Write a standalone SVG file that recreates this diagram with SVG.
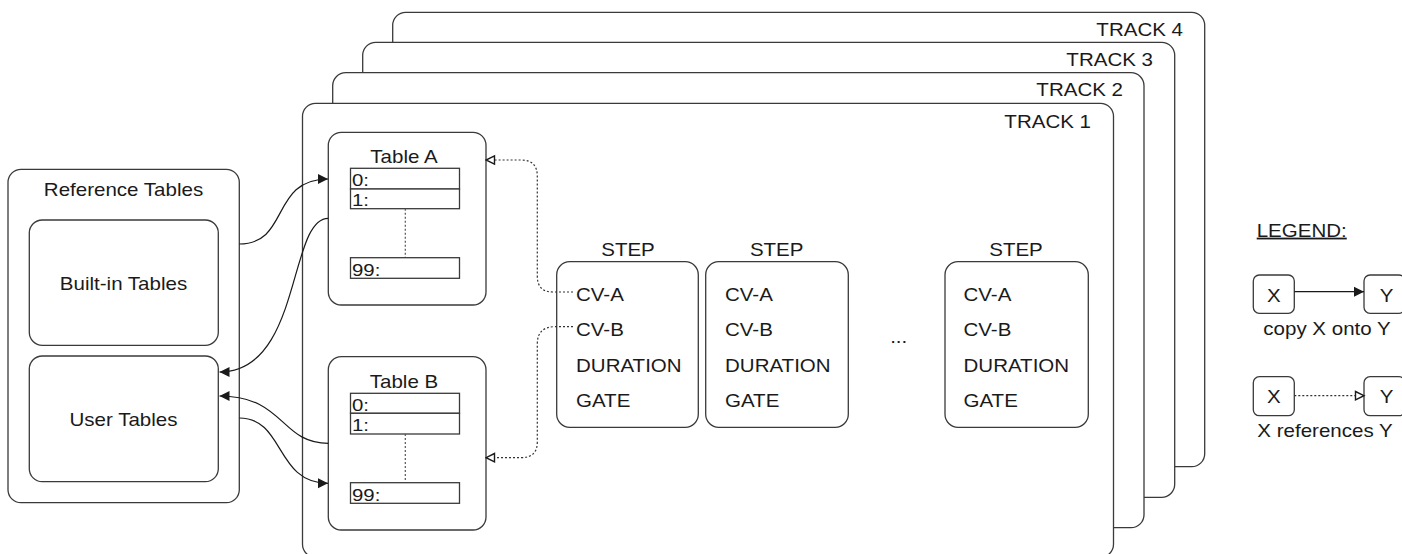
<svg xmlns="http://www.w3.org/2000/svg" width="1402" height="554" viewBox="0 0 1402 554">
<style>
  .box { fill: #ffffff; stroke: #3a3a3a; stroke-width: 1.3; }
  .cell { fill: #ffffff; stroke: #3a3a3a; stroke-width: 1.3; }
  .t { font-family: "Liberation Sans", Arial, sans-serif; font-size: 18px; fill: #1a1a1a; }
  .c { text-anchor: middle; }
  .e { text-anchor: end; }
  .row { font-family: "Liberation Sans", Arial, sans-serif; font-size: 17px; fill: #1a1a1a; }
  .solid { fill: none; stroke: #1a1a1a; stroke-width: 1.2; }
  .dot { fill: none; stroke: #333333; stroke-width: 1.2; stroke-dasharray: 2 2; }
  .vdot { fill: none; stroke: #555555; stroke-width: 1.2; stroke-dasharray: 2 2; }
</style>
<defs>
  <marker id="arrFill" markerUnits="userSpaceOnUse" markerWidth="12" markerHeight="12" viewBox="0 0 12 12" refX="11" refY="6" orient="auto">
    <path d="M1,1 L11,6 L1,11 Z" fill="#1a1a1a"/>
  </marker>
  <marker id="arrOpen" markerUnits="userSpaceOnUse" markerWidth="12" markerHeight="12" viewBox="0 0 12 12" refX="10.5" refY="6" orient="auto">
    <path d="M2,1.8 L10.5,6 L2,10.2 Z" fill="#ffffff" stroke="#1a1a1a" stroke-width="1.4"/>
  </marker>
</defs>

<g id="track4">
  <rect class="box" x="392.7" y="12.3" width="812" height="454.4" rx="13"/>
  <text class="t e" transform="matrix(1.14 0 0 1 1183 36)">TRACK 4</text>
</g>
<g id="track3">
  <rect class="box" x="362.7" y="42.3" width="812" height="455" rx="13"/>
  <text class="t e" transform="matrix(1.14 0 0 1 1153 66)">TRACK 3</text>
</g>
<g id="track2">
  <rect class="box" x="332.7" y="72.7" width="811.3" height="455" rx="13"/>
  <text class="t e" transform="matrix(1.14 0 0 1 1123 96)">TRACK 2</text>
</g>
<g id="track1">
  <rect class="box" x="302.5" y="103.3" width="811" height="454" rx="13"/>
  <text class="t e" transform="matrix(1.14 0 0 1 1091 128)">TRACK 1</text>
</g>

<g id="reference-tables">
  <rect class="box" x="8" y="169.3" width="231.3" height="333.4" rx="13"/>
  <text class="t c" transform="matrix(1.14 0 0 1 123.5 196)">Reference Tables</text>
</g>
<g id="built-in-tables">
  <rect class="box" x="29.3" y="220" width="189" height="125.3" rx="13"/>
  <text class="t c" transform="matrix(1.14 0 0 1 123.5 290)">Built-in Tables</text>
</g>
<g id="user-tables">
  <rect class="box" x="29.3" y="356" width="189" height="125.7" rx="13"/>
  <text class="t c" transform="matrix(1.14 0 0 1 123.5 426)">User Tables</text>
</g>

<g id="table-a">
  <rect class="box" x="328.3" y="132.3" width="157.7" height="172.7" rx="13"/>
  <text class="t c" transform="matrix(1.14 0 0 1 404 162.7)">Table A</text>
  <rect class="cell" x="350.5" y="168.3" width="109" height="20.7"/>
  <rect class="cell" x="350.5" y="189" width="109" height="19.7"/>
  <line class="vdot" x1="405.3" y1="208.7" x2="405.3" y2="257.7"/>
  <rect class="cell" x="350.5" y="257.7" width="109" height="20.6"/>
  <text class="row" transform="matrix(1.2 0 0 1 352 186)">0:</text>
  <text class="row" transform="matrix(1.2 0 0 1 352 206)">1:</text>
  <text class="row" transform="matrix(1.2 0 0 1 352 275.5)">99:</text>
</g>

<g id="table-b">
  <rect class="box" x="328.3" y="356.7" width="157.7" height="173.3" rx="13"/>
  <text class="t c" transform="matrix(1.14 0 0 1 404 387.7)">Table B</text>
  <rect class="cell" x="350.5" y="393.3" width="109" height="20"/>
  <rect class="cell" x="350.5" y="413.3" width="109" height="20.7"/>
  <line class="vdot" x1="405.3" y1="434" x2="405.3" y2="482.7"/>
  <rect class="cell" x="350.5" y="482.7" width="109" height="20.6"/>
  <text class="row" transform="matrix(1.2 0 0 1 352 410.8)">0:</text>
  <text class="row" transform="matrix(1.2 0 0 1 352 431)">1:</text>
  <text class="row" transform="matrix(1.2 0 0 1 352 500.5)">99:</text>
</g>

<g id="step-1">
  <text class="t c" transform="matrix(1.14 0 0 1 628 255.7)">STEP</text>
  <rect class="box" x="556.7" y="261.7" width="141.6" height="165.6" rx="13"/>
  <text class="t" transform="matrix(1.14 0 0 1 576 300.7)">CV-A</text>
  <text class="t" transform="matrix(1.14 0 0 1 576 336)">CV-B</text>
  <text class="t" transform="matrix(1.14 0 0 1 576 371.7)">DURATION</text>
  <text class="t" transform="matrix(1.14 0 0 1 576 406.7)">GATE</text>
</g>
<g id="step-2">
  <text class="t c" transform="matrix(1.14 0 0 1 776.7 255.7)">STEP</text>
  <rect class="box" x="705.7" y="261.7" width="142.6" height="165.6" rx="13"/>
  <text class="t" transform="matrix(1.14 0 0 1 725 300.7)">CV-A</text>
  <text class="t" transform="matrix(1.14 0 0 1 725 336)">CV-B</text>
  <text class="t" transform="matrix(1.14 0 0 1 725 371.7)">DURATION</text>
  <text class="t" transform="matrix(1.14 0 0 1 725 406.7)">GATE</text>
</g>
<g id="ellipsis">
  <text class="t c" transform="matrix(1.14 0 0 1 898.7 343)">...</text>
</g>
<g id="step-3">
  <text class="t c" transform="matrix(1.14 0 0 1 1016 255.7)">STEP</text>
  <rect class="box" x="945" y="261.7" width="143.3" height="165.6" rx="13"/>
  <text class="t" transform="matrix(1.14 0 0 1 963.5 300.7)">CV-A</text>
  <text class="t" transform="matrix(1.14 0 0 1 963.5 336)">CV-B</text>
  <text class="t" transform="matrix(1.14 0 0 1 963.5 371.7)">DURATION</text>
  <text class="t" transform="matrix(1.14 0 0 1 963.5 406.7)">GATE</text>
</g>

<g id="connectors">
  <path class="solid" d="M239.3,244 C290,244 270,179 328,179" marker-end="url(#arrFill)"/>
  <path class="solid" d="M328.3,218.3 C288,218.3 302,372 219.5,372" marker-end="url(#arrFill)"/>
  <path class="solid" d="M328.3,443.3 C280,443.3 285,396 219.5,396" marker-end="url(#arrFill)"/>
  <path class="solid" d="M239.3,418 C285,418 275,483.3 328,483.3" marker-end="url(#arrFill)"/>
  <path class="dot" d="M573,292 L553,292 Q537.3,292 537.3,276 L537.3,176 Q537.3,160 521,160 L486,160" marker-end="url(#arrOpen)"/>
  <path class="dot" d="M573,326.7 L555,326.7 Q537.3,326.7 537.3,344 L537.3,442 Q537.3,457.7 521,457.7 L486,457.7" marker-end="url(#arrOpen)"/>
</g>

<g id="legend">
  <text class="t" text-decoration="underline" transform="matrix(1.14 0 0 1 1256.7 236.7)">LEGEND:</text>
  <g id="legend-copy">
    <rect class="box" x="1253.3" y="275" width="41" height="38.3" rx="6"/>
    <text class="t c" transform="matrix(1.14 0 0 1 1273.8 301.5)">X</text>
    <rect class="box" x="1364" y="275" width="41" height="38.3" rx="6"/>
    <text class="t c" transform="matrix(1.14 0 0 1 1386.5 301.5)">Y</text>
    <path class="solid" d="M1294.3,291.7 L1364,291.7" marker-end="url(#arrFill)"/>
    <text class="t c" transform="matrix(1.14 0 0 1 1327 335)">copy X onto Y</text>
  </g>
  <g id="legend-ref">
    <rect class="box" x="1253.3" y="376.7" width="41" height="39" rx="6"/>
    <text class="t c" transform="matrix(1.14 0 0 1 1273.8 403)">X</text>
    <rect class="box" x="1364" y="376.7" width="41" height="39" rx="6"/>
    <text class="t c" transform="matrix(1.14 0 0 1 1386.5 403)">Y</text>
    <path class="dot" d="M1294.3,395.7 L1364,395.7" marker-end="url(#arrOpen)"/>
    <text class="t c" transform="matrix(1.14 0 0 1 1325 436.7)">X references Y</text>
  </g>
</g>
</svg>
